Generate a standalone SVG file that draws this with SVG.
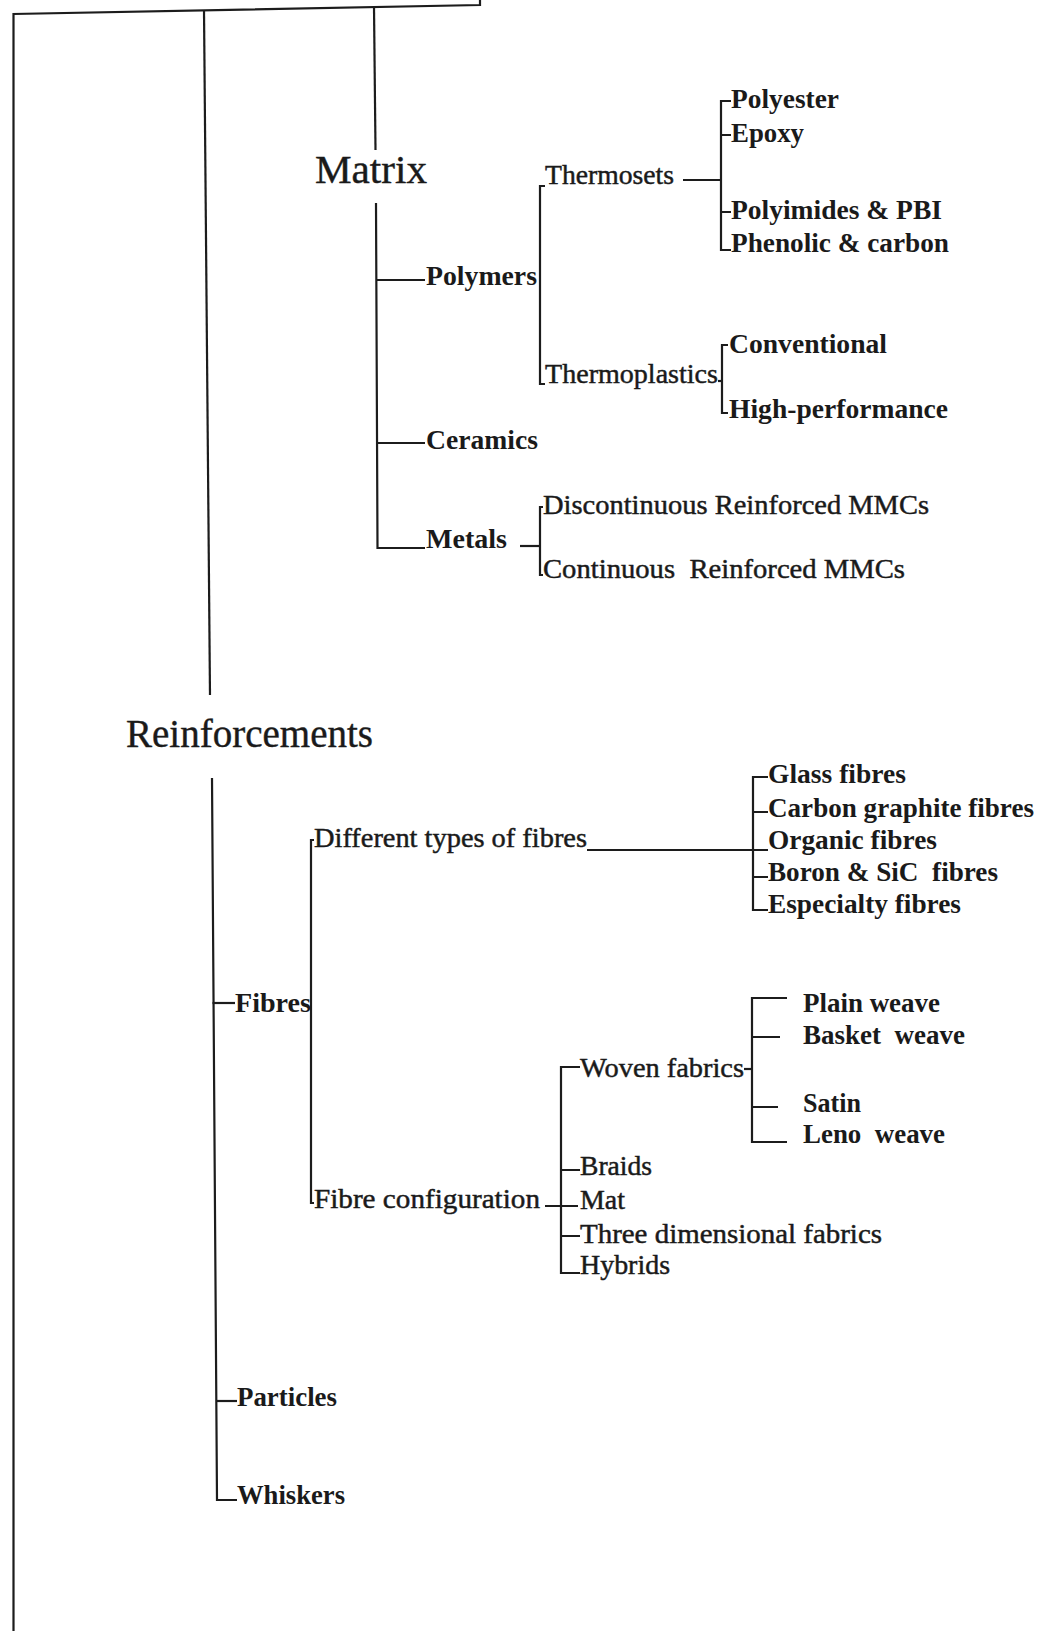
<svg xmlns="http://www.w3.org/2000/svg" width="1046" height="1631" viewBox="0 0 1046 1631">
<style>
  .ln { fill: none; stroke: #1c1c1c; stroke-width: 2.2; stroke-linejoin: miter; stroke-linecap: butt; }
  text { font-family: "Liberation Serif", "Times New Roman", serif; fill: #1a1a1a; white-space: pre; }
  .big { font-size: 39px; stroke: #1a1a1a; stroke-width: 0.4; }
  .t { font-size: 26.5px; stroke: #1a1a1a; stroke-width: 0.45; }
  .b { font-size: 26.5px; font-weight: bold; }
</style>
<rect width="1046" height="1631" fill="#ffffff"/>
<g id="connectors">
  <path class="ln" d="M13.5,1631 L13.5,14 L480,5 L480,0"/>
  <path class="ln" d="M204,10 L210,695"/>
  <path class="ln" d="M374,7 L375.5,150"/>
  <path class="ln" d="M376,203 L377.5,548 L425,548"/>
  <path class="ln" d="M377,280 L425,280"/>
  <path class="ln" d="M377,443 L425,443"/>
  <path class="ln" d="M545,186 L540,186 L540,384 L545,384"/>
  <path class="ln" d="M683,180 L721,180"/>
  <path class="ln" d="M731,101 L721,101 L721,250 L731,250"/>
  <path class="ln" d="M721,135 L731,135 M721,212 L731,212"/>
  <path class="ln" d="M718,381 L722,381"/>
  <path class="ln" d="M728,345 L722,345 L722,413 L728,413"/>
  <path class="ln" d="M520,546 L540,546"/>
  <path class="ln" d="M543,507 L540,507 L540,575 L543,575"/>
  <path class="ln" d="M212,778 L217,1500 L237,1500"/>
  <path class="ln" d="M212.5,1003 L235,1003"/>
  <path class="ln" d="M216.5,1401 L237,1401"/>
  <path class="ln" d="M314,840 L311,840 L311,1203 L314,1203"/>
  <path class="ln" d="M587,850 L768,850"/>
  <path class="ln" d="M768,777 L753,777 L753,910 L768,910"/>
  <path class="ln" d="M753,812 L768,812 M753,877 L768,877"/>
  <path class="ln" d="M545,1206 L578,1206"/>
  <path class="ln" d="M580,1067 L561,1067 L561,1273 L580,1273"/>
  <path class="ln" d="M561,1170 L580,1170 M561,1236 L580,1236"/>
  <path class="ln" d="M744,1069 L752,1069"/>
  <path class="ln" d="M787,998 L752,998 L752,1142 L787,1142"/>
  <path class="ln" d="M752,1037 L780,1037 M752,1107 L778,1107"/>
</g>
<g id="matrix"><text class="big" x="315" y="183" textLength="112" lengthAdjust="spacingAndGlyphs">Matrix</text></g>
<g id="polymers"><text class="b" x="426" y="285" textLength="111" lengthAdjust="spacingAndGlyphs">Polymers</text></g>
<g id="thermosets"><text class="t" x="545" y="184" textLength="129" lengthAdjust="spacingAndGlyphs">Thermosets</text></g>
<g id="polyester"><text class="b" x="731" y="108" textLength="108" lengthAdjust="spacingAndGlyphs">Polyester</text></g>
<g id="epoxy"><text class="b" x="731" y="142" textLength="73" lengthAdjust="spacingAndGlyphs">Epoxy</text></g>
<g id="polyimides"><text class="b" x="731" y="219" textLength="211" lengthAdjust="spacingAndGlyphs">Polyimides &amp; PBI</text></g>
<g id="phenolic"><text class="b" x="731" y="252" textLength="218" lengthAdjust="spacingAndGlyphs">Phenolic &amp; carbon</text></g>
<g id="thermoplastics"><text class="t" x="545" y="383" textLength="173" lengthAdjust="spacingAndGlyphs">Thermoplastics</text></g>
<g id="conventional"><text class="b" x="729" y="353" textLength="158" lengthAdjust="spacingAndGlyphs">Conventional</text></g>
<g id="high-performance"><text class="b" x="729" y="418" textLength="219" lengthAdjust="spacingAndGlyphs">High-performance</text></g>
<g id="ceramics"><text class="b" x="426" y="449" textLength="112" lengthAdjust="spacingAndGlyphs">Ceramics</text></g>
<g id="metals"><text class="b" x="426" y="548" textLength="81" lengthAdjust="spacingAndGlyphs">Metals</text></g>
<g id="discontinuous"><text class="t" x="543" y="514" textLength="386" lengthAdjust="spacingAndGlyphs">Discontinuous Reinforced MMCs</text></g>
<g id="continuous"><text class="t" x="543" y="578" textLength="362" lengthAdjust="spacingAndGlyphs">Continuous  Reinforced MMCs</text></g>
<g id="reinforcements"><text class="big" x="126" y="747" textLength="247" lengthAdjust="spacingAndGlyphs">Reinforcements</text></g>
<g id="fibres"><text class="b" x="235" y="1012" textLength="76" lengthAdjust="spacingAndGlyphs">Fibres</text></g>
<g id="different-types"><text class="t" x="314" y="847" textLength="273" lengthAdjust="spacingAndGlyphs">Different types of fibres</text></g>
<g id="glass"><text class="b" x="768" y="783" textLength="138" lengthAdjust="spacingAndGlyphs">Glass fibres</text></g>
<g id="carbon"><text class="b" x="768" y="817" textLength="266" lengthAdjust="spacingAndGlyphs">Carbon graphite fibres</text></g>
<g id="organic"><text class="b" x="768" y="849" textLength="169" lengthAdjust="spacingAndGlyphs">Organic fibres</text></g>
<g id="boron"><text class="b" x="768" y="881" textLength="230" lengthAdjust="spacingAndGlyphs">Boron &amp; SiC  fibres</text></g>
<g id="especialty"><text class="b" x="768" y="913" textLength="193" lengthAdjust="spacingAndGlyphs">Especialty fibres</text></g>
<g id="fibre-configuration"><text class="t" x="314" y="1208" textLength="226" lengthAdjust="spacingAndGlyphs">Fibre configuration</text></g>
<g id="woven"><text class="t" x="580" y="1077" textLength="164" lengthAdjust="spacingAndGlyphs">Woven fabrics</text></g>
<g id="plain"><text class="b" x="803" y="1012" textLength="137" lengthAdjust="spacingAndGlyphs">Plain weave</text></g>
<g id="basket"><text class="b" x="803" y="1044" textLength="162" lengthAdjust="spacingAndGlyphs">Basket  weave</text></g>
<g id="satin"><text class="b" x="803" y="1112" textLength="58" lengthAdjust="spacingAndGlyphs">Satin</text></g>
<g id="leno"><text class="b" x="803" y="1143" textLength="142" lengthAdjust="spacingAndGlyphs">Leno  weave</text></g>
<g id="braids"><text class="t" x="580" y="1175" textLength="72" lengthAdjust="spacingAndGlyphs">Braids</text></g>
<g id="mat"><text class="t" x="580" y="1209" textLength="45" lengthAdjust="spacingAndGlyphs">Mat</text></g>
<g id="three-dimensional"><text class="t" x="580" y="1243" textLength="302" lengthAdjust="spacingAndGlyphs">Three dimensional fabrics</text></g>
<g id="hybrids"><text class="t" x="580" y="1274" textLength="90" lengthAdjust="spacingAndGlyphs">Hybrids</text></g>
<g id="particles"><text class="b" x="237" y="1406" textLength="100" lengthAdjust="spacingAndGlyphs">Particles</text></g>
<g id="whiskers"><text class="b" x="237" y="1504" textLength="108" lengthAdjust="spacingAndGlyphs">Whiskers</text></g>
</svg>
